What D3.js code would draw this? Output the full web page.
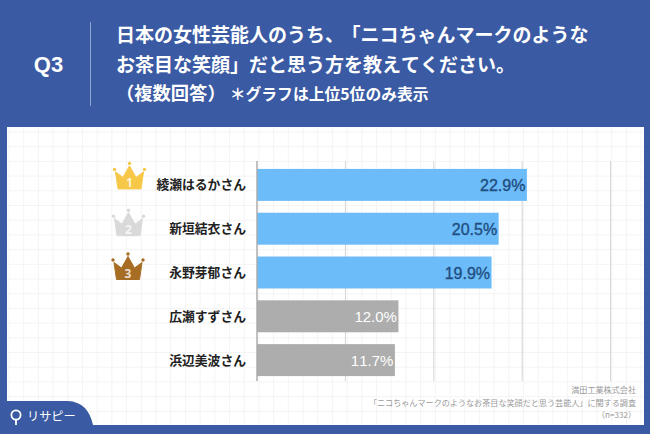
<!DOCTYPE html>
<html><head><meta charset="utf-8">
<script src="https://cdn.jsdelivr.net/npm/d3@7"></script>
<style>html,body{margin:0;padding:0;background:#3a5aa3}svg{display:block}text{font-family:"Noto Sans CJK JP","Noto Sans",sans-serif;font-feature-settings:"chws" 0,"palt" 0;font-kerning:none}</style>
</head><body><svg id="c" width="650" height="434"></svg>
<script>
const names = ["綾瀬はるかさん","新垣結衣さん","永野芽郁さん","広瀬すずさん","浜辺美波さん"];
const values = [22.9,20.5,19.9,12.0,11.7];
const ticks = [0,7.5,15,22.5,30];
const barColors = ["#6dbcfa","#6dbcfa","#6dbcfa","#adadad","#adadad"];
const labelColors = ["#1f4e80","#1f4e80","#1f4e80","#ffffff","#ffffff"];
const crownColors = ["#f7c747","#d9d9d9","#a86d25"];
const titleLine1 = ["日本の女性芸能人のうち、","「ニコちゃんマークのような"];
const titleLine2 = "お茶目な笑顔」だと思う方を教えてください。";
const sourceLines = ["満田工業株式会社","「ニコちゃんマークのようなお茶目な笑顔だと思う芸能人」に関する調査","（n=332）"];

const svg = d3.select("#c");
const blue = "#3a5aa3";
svg.append("rect").attr("width",650).attr("height",434).attr("fill",blue);
svg.append("rect").attr("x",7).attr("y",127).attr("width",637).attr("height",298).attr("fill","#fff");

// faint background grid
const g0 = svg.append("g").attr("stroke","#f4f4f4").attr("stroke-width",1);
d3.range(9,644,14.7).forEach(x=>g0.append("line").attr("x1",x).attr("x2",x).attr("y1",127).attr("y2",425));
d3.range(132,425,14.7).forEach(y=>g0.append("line").attr("y1",y).attr("y2",y).attr("x1",7).attr("x2",644));

// header
svg.append("text").attr("x",48.5).attr("y",71.5).attr("text-anchor","middle").attr("fill","#fff")
  .attr("font-size",22).attr("font-weight",700).style("font-family","Liberation Sans").text("Q3");
svg.append("line").attr("x1",90.5).attr("x2",90.5).attr("y1",22).attr("y2",106).attr("stroke","#8fa3cf").attr("stroke-width",1);
const t1 = svg.append("text").attr("x",116).attr("y",42).attr("fill","#fff").attr("font-size",19).attr("font-weight",700);
t1.append("tspan").text(titleLine1[0]);
t1.append("tspan").attr("dx",7).text(titleLine1[1]);
svg.append("text").attr("x",116).attr("y",72).attr("fill","#fff").attr("font-size",19).attr("font-weight",700).text(titleLine2);
const sub = svg.append("text").attr("x",116).attr("y",100).attr("fill","#fff").attr("font-weight",700);
sub.append("tspan").attr("font-size",18.3).text("（複数回答）");
sub.append("tspan").attr("font-size",15.8).attr("dx",4).text("＊グラフは上位5位のみ表示");

// chart
const x = d3.scaleLinear().domain([0,30]).range([257,610.6]);
const y = d3.scaleBand().domain(names).range([163,382]).paddingInner(0.27).paddingOuter(0.135);

svg.append("g").selectAll("line").data(ticks.slice(1)).join("line")
  .attr("x1",d=>x(d)).attr("x2",d=>x(d)).attr("y1",161).attr("y2",381)
  .attr("stroke","#d6d6d6").attr("stroke-width",1);

svg.append("g").selectAll("rect").data(names).join("rect")
  .attr("x",x(0)).attr("y",d=>y(d)).attr("height",y.bandwidth())
  .attr("width",(d,i)=>x(values[i])-x(0)).attr("fill",(d,i)=>barColors[i]);

svg.append("line").attr("x1",x(0)).attr("x2",x(0)).attr("y1",161).attr("y2",381).attr("stroke","#a8a8a8").attr("stroke-width",1.4);

svg.append("g").selectAll("text").data(names).join("text")
  .attr("x",246).attr("y",d=>y(d)+y.bandwidth()/2+4.5).attr("text-anchor","end")
  .attr("font-size",12.8).attr("font-weight",700).attr("fill","#222").text(d=>d);

svg.append("g").selectAll("text").data(names).join("text")
  .attr("x",(d,i)=>x(values[i])-1.5).attr("y",d=>y(d)+y.bandwidth()/2+6).attr("text-anchor","end")
  .attr("font-size",(d,i)=>i<3?16:15).attr("fill",(d,i)=>labelColors[i])
  .attr("stroke",(d,i)=>i<3?labelColors[i]:"none").attr("stroke-width",0.35)
  .style("font-family","Liberation Sans").text((d,i)=>values[i].toFixed(1)+"%");

// crowns
const crownPath = "M-11.5,13 L-14,-4 L-6.5,1.5 L0,-10 L6.5,1.5 L14,-4 L11.5,13 Z";
crownColors.forEach((c,i)=>{
  const yc = y(names[i])+y.bandwidth()/2-9 + [0,3,3][i];
  const cx = [129.5,128.5,128][i];
  const g = svg.append("g").attr("transform",`translate(${cx},${yc})`);
  g.append("path").attr("d",crownPath).attr("fill",c).attr("stroke",c).attr("stroke-linejoin","round");
  [[-15,-6.5],[0,-12.5],[15,-6.5]].forEach(p=>g.append("circle").attr("cx",p[0]).attr("cy",p[1]).attr("r",1.7).attr("fill",c));
  g.append("text").attr("y",11).attr("text-anchor","middle").attr("font-size",12).attr("font-weight",700)
    .attr("fill","#fff").attr("fill-opacity",0.8).style("font-family","Noto Sans").text(i+1);
});

// source
sourceLines.forEach((t,i)=>svg.append("text").attr("x",636).attr("y",[393,406,418][i]).attr("text-anchor","end")
  .attr("fill","#999").attr("font-size",8.1).text(t));

// logo tab
svg.append("path").attr("d","M7,425 V401 H68 Q88,402 93,425 Z").attr("fill",blue);
svg.append("rect").attr("x",0).attr("y",425).attr("width",650).attr("height",9).attr("fill",blue);
svg.append("circle").attr("cx",16).attr("cy",415).attr("r",4.6).attr("fill","none").attr("stroke","#fff").attr("stroke-width",1.8);
svg.append("line").attr("x1",16).attr("x2",16).attr("y1",420).attr("y2",425).attr("stroke","#fff").attr("stroke-width",1.8);
svg.append("text").attr("x",27).attr("y",421).attr("fill","#fff").attr("font-size",12.2).attr("font-weight",400).text("リサピー");
</script></body></html>
